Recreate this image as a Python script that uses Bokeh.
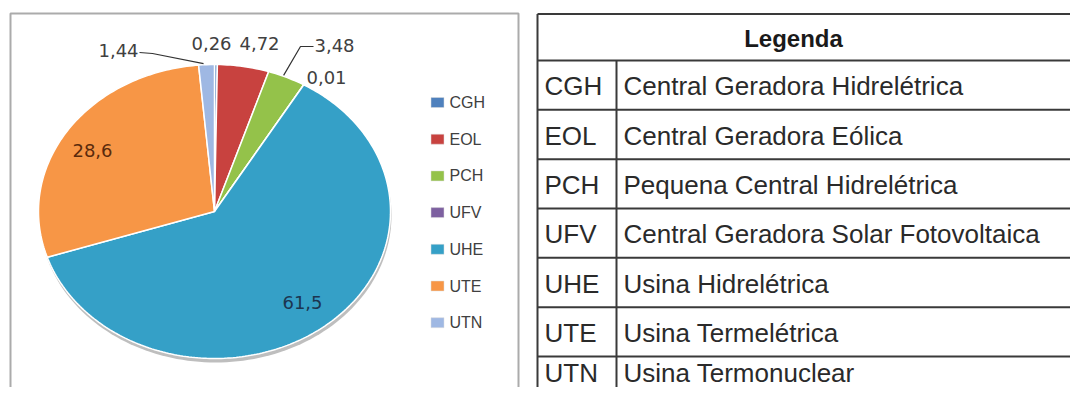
import numpy as np
from bokeh.plotting import figure
from bokeh.models import Range1d, ColumnDataSource
from bokeh.core.properties import value
from bokeh.embed import file_html
from bokeh.resources import INLINE

# ---------------- data ----------------
categories = ["CGH", "EOL", "PCH", "UFV", "UHE", "UTE", "UTN"]
values = [0.26, 4.72, 3.48, 0.01, 61.5, 28.6, 1.44]
descriptions = [
    "Central Geradora Hidrelétrica",
    "Central Geradora Eólica",
    "Pequena Central Hidrelétrica",
    "Central Geradora Solar Fotovoltaica",
    "Usina Hidrelétrica",
    "Usina Termelétrica",
    "Usina Termonuclear",
]
table_title = "Legenda"

# ---------------- styles / layout ----------------
colors = ["#4f81bd", "#c8423f", "#94c24a", "#7d60a0", "#35a0c7", "#f79646", "#9fb8e3"]
label_colors = ["#404040", "#404040", "#404040", "#404040", "#1c3550", "#5a2a0c", "#404040"]
label_pos = {"CGH": (211, 43), "EOL": (259, 43), "PCH": (334, 45), "UFV": (326, 77),
             "UHE": (302, 302), "UTE": (92, 150), "UTN": (118, 50)}

W, H = 1070, 387
p = figure(width=W, height=H, x_range=Range1d(0, W), y_range=Range1d(H, 0),
           output_backend="svg", toolbar_location=None, min_border=0,
           x_axis_location=None, y_axis_location=None)
p.grid.visible = False
p.outline_line_color = None
p.background_fill_color = "white"
p.border_fill_color = "white"

# chart frame
p.line(x=[10, 10, 518, 518], y=[H + 5, 13, 13, H + 5], line_color="#ababab", line_width=2)

# pie (tilted -> ellipse)
cx, cy, rx, ry = 214, 211, 176, 147
t = np.linspace(0, 2 * np.pi, 200)
p.patch(x=cx + 1 + rx * np.sin(t), y=cy + 4 + ry * np.cos(t), fill_color="#6e6e6e",
        fill_alpha=0.45, line_color=None)

total = float(sum(values))
cum = np.concatenate([[0.0], np.cumsum(values)]) / total * 2 * np.pi
xs, ys = [], []
mids = []
for i in range(len(values)):
    th = np.linspace(cum[i], cum[i + 1], max(3, int((cum[i + 1] - cum[i]) * 60)))
    xs.append([cx] + list(cx + rx * np.sin(th)))
    ys.append([cy] + list(cy - ry * np.cos(th)))
    m = (cum[i] + cum[i + 1]) / 2
    mids.append((cx + rx * np.sin(m), cy - ry * np.cos(m)))
src = ColumnDataSource(dict(xs=xs, ys=ys, color=colors))
p.patches("xs", "ys", source=src, fill_color="color", line_color="white", line_width=1.5)

# leader lines
utn = categories.index("UTN")
pch = categories.index("PCH")
p.line(x=[139, 152, mids[utn][0] - 3], y=[52, 53, mids[utn][1] - 1], line_color="#333333", line_width=1.2)
p.line(x=[313, 300, mids[pch][0] - 3], y=[46, 46, mids[pch][1] - 2], line_color="#333333", line_width=1.2)

# data labels
lab_txt = [f"{v:g}".replace(".", ",") for v in values]
p.text(x=[label_pos[c][0] for c in categories], y=[label_pos[c][1] for c in categories],
       text=lab_txt, text_color=label_colors, text_font=value("DejaVu Sans"),
       text_font_size="18px", text_align="center", text_baseline="middle")

# in-chart legend
ly = [102 + 36.7 * i for i in range(len(categories))]
p.rect(x=[437] * len(categories), y=ly, width=13, height=10, fill_color=colors,
       line_color="#dddddd", line_width=0.5)
p.text(x=[449] * len(categories), y=ly, text=categories, text_color="#404040",
       text_font=value("Liberation Sans"), text_font_size="16px",
       text_align="left", text_baseline="middle")

# table
header_top, header_bot, last_line = 13.5, 60.0, 356.0
n = len(categories)
step = (last_line - header_bot) / (n - 1)
rows_y = [header_top] + [header_bot + step * i for i in range(n)]
p.segment(x0=[537] * len(rows_y), y0=rows_y, x1=[W] * len(rows_y), y1=rows_y,
          line_color="#3a3a3a", line_width=2)
p.segment(x0=[537, 616], y0=[header_top, header_bot], x1=[537, 616], y1=[H + 5, H + 5],
          line_color="#3a3a3a", line_width=2)
p.text(x=[793], y=[(header_top + header_bot) / 2 + 1], text=[table_title], text_color="#1a1a1a",
       text_font=value("Liberation Sans"), text_font_size="24px", text_font_style="bold",
       text_align="center", text_baseline="middle")
row_c = [rows_y[i] + step / 2 + 1 for i in range(1, n)]
row_c.append(last_line + 16)  # last row is cut by the page edge
p.text(x=[544] * n, y=row_c, text=categories, text_color="#2a2a2a",
       text_font=value("Liberation Sans"), text_font_size="26px",
       text_align="left", text_baseline="middle")
p.text(x=[623] * n, y=row_c, text=descriptions, text_color="#2a2a2a",
       text_font=value("Liberation Sans"), text_font_size="26px",
       text_align="left", text_baseline="middle")

open("out.html", "w").write(file_html(p, INLINE))
